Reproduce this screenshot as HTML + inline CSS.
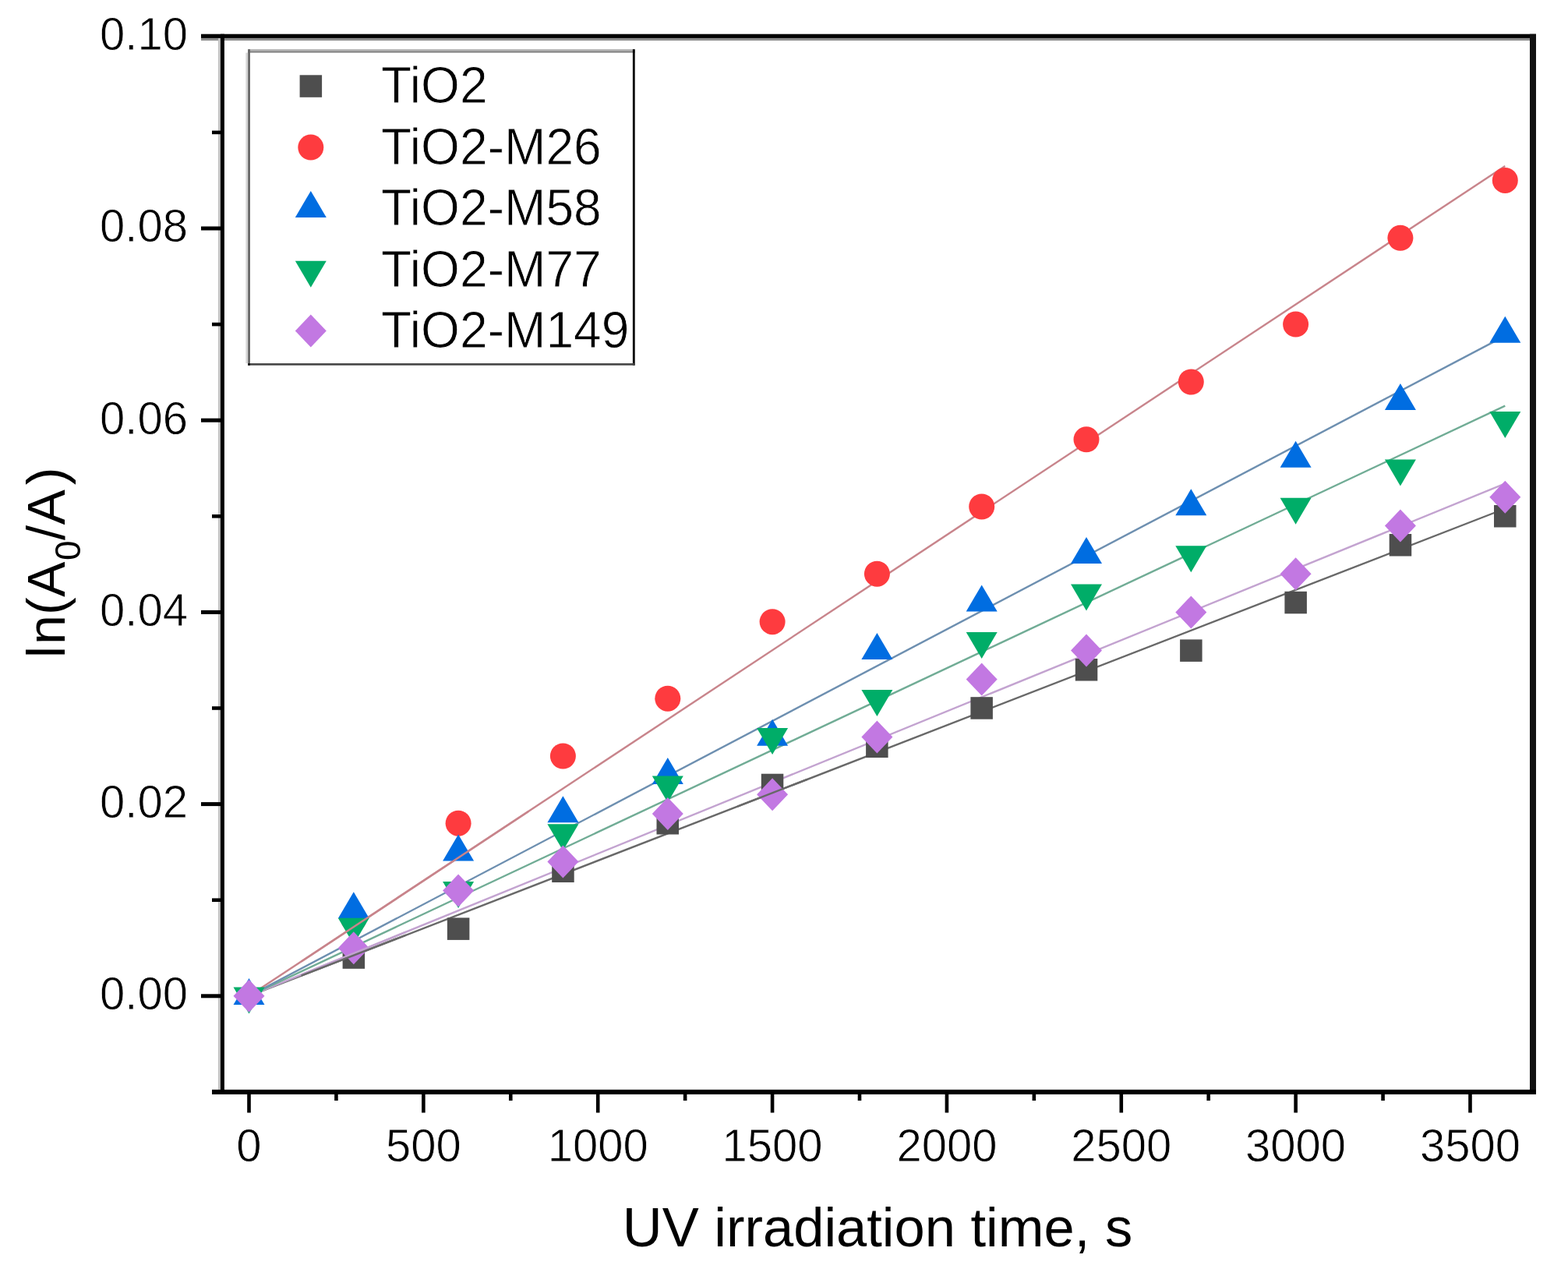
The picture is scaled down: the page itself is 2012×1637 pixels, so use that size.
<!DOCTYPE html>
<html><head><meta charset="utf-8"><title>ln(A0/A) vs UV irradiation time</title>
<style>html,body{margin:0;padding:0;background:#fff;}svg{display:block;}</style>
</head><body>
<svg width="2012" height="1637" viewBox="0 0 2012 1637">
<rect width="2012" height="1637" fill="#fff"/>
<line x1="319.5" y1="1277.8" x2="1931.3" y2="652.5" stroke="#686868" stroke-width="2.4"/>
<line x1="319.5" y1="1277.8" x2="1931.3" y2="620.4" stroke="#c3a3d0" stroke-width="2.4"/>
<line x1="319.5" y1="1277.8" x2="1931.3" y2="520.7" stroke="#70ac95" stroke-width="2.4"/>
<line x1="319.5" y1="1277.8" x2="1931.3" y2="430.9" stroke="#6d8fb0" stroke-width="2.4"/>
<line x1="319.5" y1="1277.8" x2="1931.3" y2="213.0" stroke="#c8848b" stroke-width="2.4"/>
<rect x="439.6" y="1214.3" width="28.5" height="28.5" fill="#4e4e4e"/>
<rect x="573.9" y="1177.4" width="28.5" height="28.5" fill="#4e4e4e"/>
<rect x="708.2" y="1103.5" width="28.5" height="28.5" fill="#4e4e4e"/>
<rect x="842.5" y="1042.0" width="28.5" height="28.5" fill="#4e4e4e"/>
<rect x="976.8" y="992.7" width="28.5" height="28.5" fill="#4e4e4e"/>
<rect x="1111.1" y="943.5" width="28.5" height="28.5" fill="#4e4e4e"/>
<rect x="1245.4" y="894.2" width="28.5" height="28.5" fill="#4e4e4e"/>
<rect x="1379.8" y="845.0" width="28.5" height="28.5" fill="#4e4e4e"/>
<rect x="1514.1" y="820.4" width="28.5" height="28.5" fill="#4e4e4e"/>
<rect x="1648.4" y="758.8" width="28.5" height="28.5" fill="#4e4e4e"/>
<rect x="1782.7" y="685.0" width="28.5" height="28.5" fill="#4e4e4e"/>
<rect x="1917.0" y="648.0" width="28.5" height="28.5" fill="#4e4e4e"/>
<circle cx="453.8" cy="1179.3" r="16.5" fill="#fe3b3f"/>
<circle cx="588.1" cy="1056.2" r="16.5" fill="#fe3b3f"/>
<circle cx="722.4" cy="970.0" r="16.5" fill="#fe3b3f"/>
<circle cx="856.8" cy="896.2" r="16.5" fill="#fe3b3f"/>
<circle cx="991.1" cy="797.7" r="16.5" fill="#fe3b3f"/>
<circle cx="1125.4" cy="736.2" r="16.5" fill="#fe3b3f"/>
<circle cx="1259.7" cy="650.0" r="16.5" fill="#fe3b3f"/>
<circle cx="1394.0" cy="563.8" r="16.5" fill="#fe3b3f"/>
<circle cx="1528.3" cy="490.0" r="16.5" fill="#fe3b3f"/>
<circle cx="1662.6" cy="416.1" r="16.5" fill="#fe3b3f"/>
<circle cx="1796.9" cy="305.3" r="16.5" fill="#fe3b3f"/>
<circle cx="1931.3" cy="231.4" r="16.5" fill="#fe3b3f"/>
<polygon points="319.5,1255.1 339.5,1289.1 299.5,1289.1" fill="#006de1"/>
<polygon points="453.8,1144.3 473.8,1178.3 433.8,1178.3" fill="#006de1"/>
<polygon points="588.1,1070.5 608.1,1104.5 568.1,1104.5" fill="#006de1"/>
<polygon points="722.4,1021.2 742.4,1055.2 702.4,1055.2" fill="#006de1"/>
<polygon points="856.8,972.0 876.8,1006.0 836.8,1006.0" fill="#006de1"/>
<polygon points="991.1,922.8 1011.1,956.8 971.1,956.8" fill="#006de1"/>
<polygon points="1125.4,812.0 1145.4,846.0 1105.4,846.0" fill="#006de1"/>
<polygon points="1259.7,750.4 1279.7,784.4 1239.7,784.4" fill="#006de1"/>
<polygon points="1394.0,688.9 1414.0,722.9 1374.0,722.9" fill="#006de1"/>
<polygon points="1528.3,627.3 1548.3,661.3 1508.3,661.3" fill="#006de1"/>
<polygon points="1662.6,565.8 1682.6,599.8 1642.6,599.8" fill="#006de1"/>
<polygon points="1796.9,491.9 1816.9,525.9 1776.9,525.9" fill="#006de1"/>
<polygon points="1931.3,405.7 1951.3,439.7 1911.3,439.7" fill="#006de1"/>
<polygon points="299.5,1266.5 339.5,1266.5 319.5,1300.5" fill="#00ad68"/>
<polygon points="433.8,1177.8 473.8,1177.8 453.8,1211.8" fill="#00ad68"/>
<polygon points="568.1,1131.1 608.1,1131.1 588.1,1165.1" fill="#00ad68"/>
<polygon points="702.4,1057.2 742.4,1057.2 722.4,1091.2" fill="#00ad68"/>
<polygon points="836.8,995.6 876.8,995.6 856.8,1029.6" fill="#00ad68"/>
<polygon points="971.1,934.1 1011.1,934.1 991.1,968.1" fill="#00ad68"/>
<polygon points="1105.4,884.9 1145.4,884.9 1125.4,918.9" fill="#00ad68"/>
<polygon points="1239.7,811.0 1279.7,811.0 1259.7,845.0" fill="#00ad68"/>
<polygon points="1374.0,749.4 1414.0,749.4 1394.0,783.4" fill="#00ad68"/>
<polygon points="1508.3,700.2 1548.3,700.2 1528.3,734.2" fill="#00ad68"/>
<polygon points="1642.6,638.7 1682.6,638.7 1662.6,672.7" fill="#00ad68"/>
<polygon points="1776.9,589.4 1816.9,589.4 1796.9,623.4" fill="#00ad68"/>
<polygon points="1911.3,527.9 1951.3,527.9 1931.3,561.9" fill="#00ad68"/>
<polygon points="319.5,1256.8 339.5,1277.8 319.5,1298.8 299.5,1277.8" fill="#c278e2"/>
<polygon points="453.8,1195.2 473.8,1216.2 453.8,1237.2 433.8,1216.2" fill="#c278e2"/>
<polygon points="588.1,1121.4 608.1,1142.4 588.1,1163.4 568.1,1142.4" fill="#c278e2"/>
<polygon points="722.4,1084.5 742.4,1105.5 722.4,1126.5 702.4,1105.5" fill="#c278e2"/>
<polygon points="856.8,1022.9 876.8,1043.9 856.8,1064.9 836.8,1043.9" fill="#c278e2"/>
<polygon points="991.1,998.3 1011.1,1019.3 991.1,1040.3 971.1,1019.3" fill="#c278e2"/>
<polygon points="1125.4,924.4 1145.4,945.4 1125.4,966.4 1105.4,945.4" fill="#c278e2"/>
<polygon points="1259.7,850.6 1279.7,871.6 1259.7,892.6 1239.7,871.6" fill="#c278e2"/>
<polygon points="1394.0,813.6 1414.0,834.6 1394.0,855.6 1374.0,834.6" fill="#c278e2"/>
<polygon points="1528.3,764.4 1548.3,785.4 1528.3,806.4 1508.3,785.4" fill="#c278e2"/>
<polygon points="1662.6,715.2 1682.6,736.2 1662.6,757.2 1642.6,736.2" fill="#c278e2"/>
<polygon points="1796.9,653.6 1816.9,674.6 1796.9,695.6 1776.9,674.6" fill="#c278e2"/>
<polygon points="1931.3,616.7 1951.3,637.7 1931.3,658.7 1911.3,637.7" fill="#c278e2"/>
<line x1="386.7" y1="1233.4" x2="677.7" y2="1041.2" stroke="#c8848b" stroke-width="2.4"/>
<line x1="946.3" y1="1034.6" x2="1035.8" y2="999.9" stroke="#686868" stroke-width="2.4"/>
<line x1="386.7" y1="1250.4" x2="521.0" y2="1195.6" stroke="#c3a3d0" stroke-width="2.4"/>
<line x1="386.7" y1="1251.7" x2="521.0" y2="1199.6" stroke="#686868" stroke-width="2.4"/>
<rect x="258.00" y="48.90" width="1705.00" height="3.20" fill="#8c8c8c"/>
<rect x="279.90" y="48.90" width="3.00" height="1349.00" fill="#c4c4c4"/>
<rect x="258.00" y="43.70" width="1713.00" height="5.20" fill="#000"/>
<rect x="282.90" y="43.70" width="5.00" height="1360.30" fill="#000"/>
<rect x="1963.00" y="43.70" width="8.00" height="1360.30" fill="#111"/>
<rect x="272.00" y="1397.90" width="1699.00" height="6.10" fill="#000"/>
<rect x="258.00" y="1275.30" width="25.00" height="5.00" fill="#000"/>
<rect x="272.00" y="1152.40" width="11.00" height="4.60" fill="#000"/>
<rect x="258.00" y="1029.10" width="25.00" height="5.00" fill="#000"/>
<rect x="272.00" y="906.20" width="11.00" height="4.60" fill="#000"/>
<rect x="258.00" y="782.90" width="25.00" height="5.00" fill="#000"/>
<rect x="272.00" y="660.00" width="11.00" height="4.60" fill="#000"/>
<rect x="258.00" y="536.70" width="25.00" height="5.00" fill="#000"/>
<rect x="272.00" y="413.80" width="11.00" height="4.60" fill="#000"/>
<rect x="258.00" y="290.50" width="25.00" height="5.00" fill="#000"/>
<rect x="272.00" y="167.60" width="11.00" height="4.60" fill="#000"/>
<rect x="317.20" y="1403.00" width="4.60" height="24.50" fill="#000"/>
<rect x="429.13" y="1403.00" width="4.60" height="9.00" fill="#000"/>
<rect x="541.06" y="1403.00" width="4.60" height="24.50" fill="#000"/>
<rect x="652.98" y="1403.00" width="4.60" height="9.00" fill="#000"/>
<rect x="764.91" y="1403.00" width="4.60" height="24.50" fill="#000"/>
<rect x="876.84" y="1403.00" width="4.60" height="9.00" fill="#000"/>
<rect x="988.76" y="1403.00" width="4.60" height="24.50" fill="#000"/>
<rect x="1100.69" y="1403.00" width="4.60" height="9.00" fill="#000"/>
<rect x="1212.62" y="1403.00" width="4.60" height="24.50" fill="#000"/>
<rect x="1324.55" y="1403.00" width="4.60" height="9.00" fill="#000"/>
<rect x="1436.48" y="1403.00" width="4.60" height="24.50" fill="#000"/>
<rect x="1548.40" y="1403.00" width="4.60" height="9.00" fill="#000"/>
<rect x="1660.33" y="1403.00" width="4.60" height="24.50" fill="#000"/>
<rect x="1772.26" y="1403.00" width="4.60" height="9.00" fill="#000"/>
<rect x="1884.18" y="1403.00" width="4.60" height="24.50" fill="#000"/>
<text transform="translate(241,1295.1) scale(0.967,1)" font-family="Liberation Sans, Arial, sans-serif" font-size="60" text-anchor="end" fill="#000" stroke="#fff" stroke-width="0.8">0.00</text>
<text transform="translate(241,1048.9) scale(0.967,1)" font-family="Liberation Sans, Arial, sans-serif" font-size="60" text-anchor="end" fill="#000" stroke="#fff" stroke-width="0.8">0.02</text>
<text transform="translate(241,802.7) scale(0.967,1)" font-family="Liberation Sans, Arial, sans-serif" font-size="60" text-anchor="end" fill="#000" stroke="#fff" stroke-width="0.8">0.04</text>
<text transform="translate(241,556.5) scale(0.967,1)" font-family="Liberation Sans, Arial, sans-serif" font-size="60" text-anchor="end" fill="#000" stroke="#fff" stroke-width="0.8">0.06</text>
<text transform="translate(241,310.3) scale(0.967,1)" font-family="Liberation Sans, Arial, sans-serif" font-size="60" text-anchor="end" fill="#000" stroke="#fff" stroke-width="0.8">0.08</text>
<text transform="translate(241,64.1) scale(0.967,1)" font-family="Liberation Sans, Arial, sans-serif" font-size="60" text-anchor="end" fill="#000" stroke="#fff" stroke-width="0.8">0.10</text>
<text transform="translate(319.5,1489.6) scale(0.967,1)" font-family="Liberation Sans, Arial, sans-serif" font-size="60" text-anchor="middle" fill="#000" stroke="#fff" stroke-width="0.8">0</text>
<text transform="translate(543.4,1489.6) scale(0.967,1)" font-family="Liberation Sans, Arial, sans-serif" font-size="60" text-anchor="middle" fill="#000" stroke="#fff" stroke-width="0.8">500</text>
<text transform="translate(767.2,1489.6) scale(0.967,1)" font-family="Liberation Sans, Arial, sans-serif" font-size="60" text-anchor="middle" fill="#000" stroke="#fff" stroke-width="0.8">1000</text>
<text transform="translate(991.1,1489.6) scale(0.967,1)" font-family="Liberation Sans, Arial, sans-serif" font-size="60" text-anchor="middle" fill="#000" stroke="#fff" stroke-width="0.8">1500</text>
<text transform="translate(1214.9,1489.6) scale(0.967,1)" font-family="Liberation Sans, Arial, sans-serif" font-size="60" text-anchor="middle" fill="#000" stroke="#fff" stroke-width="0.8">2000</text>
<text transform="translate(1438.8,1489.6) scale(0.967,1)" font-family="Liberation Sans, Arial, sans-serif" font-size="60" text-anchor="middle" fill="#000" stroke="#fff" stroke-width="0.8">2500</text>
<text transform="translate(1662.6,1489.6) scale(0.967,1)" font-family="Liberation Sans, Arial, sans-serif" font-size="60" text-anchor="middle" fill="#000" stroke="#fff" stroke-width="0.8">3000</text>
<text transform="translate(1886.5,1489.6) scale(0.967,1)" font-family="Liberation Sans, Arial, sans-serif" font-size="60" text-anchor="middle" fill="#000" stroke="#fff" stroke-width="0.8">3500</text>
<text x="1126" y="1599" font-family="Liberation Sans, Arial, sans-serif" font-size="70.5" text-anchor="middle" fill="#000">UV irradiation time, s</text>
<text transform="translate(83,844) rotate(-90)" x="0" y="0" font-family="Liberation Sans, Arial, sans-serif" font-size="68" fill="#000">l<tspan dx="2">n</tspan>(<tspan dx="0.5">A</tspan><tspan font-size="46" dy="20" dx="1.5">0</tspan><tspan dy="-20" dx="0.5">/</tspan><tspan dx="0.5">A</tspan><tspan dx="6">)</tspan></text>
<rect x="318.20" y="63.20" width="496.50" height="405.50" fill="#fff"/>
<rect x="318.20" y="63.20" width="496.50" height="2.20" fill="#b0b0b0"/>
<rect x="318.20" y="65.40" width="496.50" height="2.20" fill="#808080"/>
<rect x="315.40" y="67.60" width="2.80" height="398.50" fill="#d4d4d4"/>
<rect x="318.20" y="63.20" width="2.70" height="405.50" fill="#626262"/>
<rect x="811.90" y="63.20" width="2.80" height="405.50" fill="#000"/>
<rect x="318.20" y="466.10" width="496.50" height="2.60" fill="#444"/>
<rect x="318.20" y="466.10" width="2.70" height="2.60" fill="#111"/>
<rect x="384.6" y="96.3" width="28.5" height="28.5" fill="#4e4e4e"/>
<text transform="translate(489,132.2) scale(0.972,1)" font-family="Liberation Sans, Arial, sans-serif" font-size="66" fill="#000" stroke="#fff" stroke-width="0.8">TiO2</text>
<circle cx="398.8" cy="189.1" r="16.5" fill="#fe3b3f"/>
<text transform="translate(489,210.7) scale(0.972,1)" font-family="Liberation Sans, Arial, sans-serif" font-size="66" fill="#000" stroke="#fff" stroke-width="0.8">TiO2-M26</text>
<polygon points="398.8,244.9 418.8,278.9 378.8,278.9" fill="#006de1"/>
<text transform="translate(489,289.2) scale(0.972,1)" font-family="Liberation Sans, Arial, sans-serif" font-size="66" fill="#000" stroke="#fff" stroke-width="0.8">TiO2-M58</text>
<polygon points="378.8,334.8 418.8,334.8 398.8,368.8" fill="#00ad68"/>
<text transform="translate(489,367.7) scale(0.972,1)" font-family="Liberation Sans, Arial, sans-serif" font-size="66" fill="#000" stroke="#fff" stroke-width="0.8">TiO2-M77</text>
<polygon points="398.8,403.6 418.8,424.6 398.8,445.6 378.8,424.6" fill="#c278e2"/>
<text transform="translate(489,446.2) scale(0.972,1)" font-family="Liberation Sans, Arial, sans-serif" font-size="66" fill="#000" stroke="#fff" stroke-width="0.8">TiO2-M149</text>
</svg>
</body></html>
